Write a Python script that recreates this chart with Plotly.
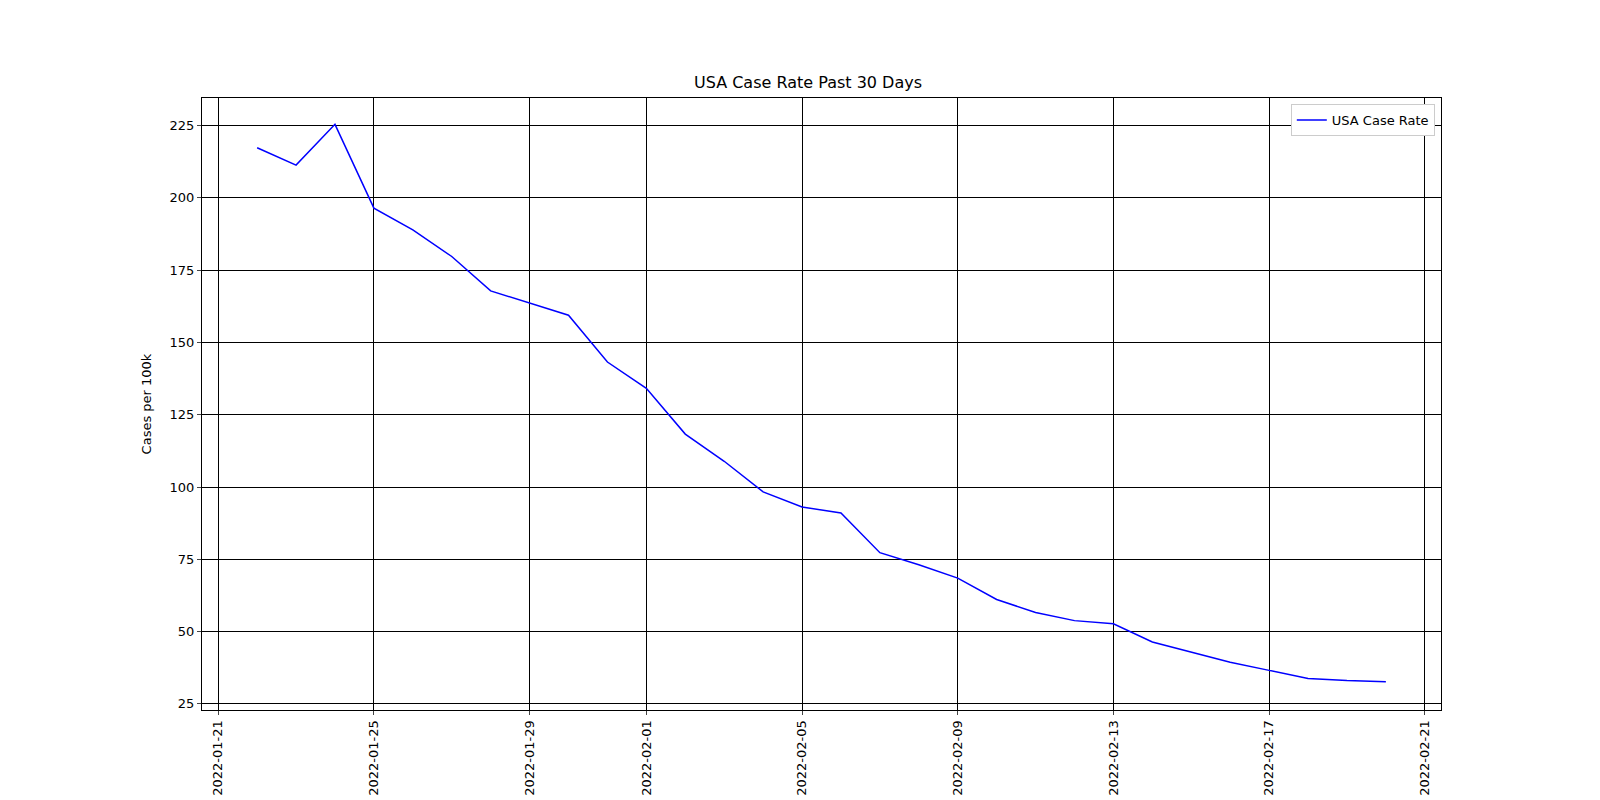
import plotly.graph_objects as go
import pandas as pd

dates = pd.date_range("2022-01-22", "2022-02-20", freq="D").strftime("%Y-%m-%d").tolist()
rates = [217.3, 211.3, 225.4, 196.4, 188.9, 179.7, 167.8, 163.6, 159.4, 143.2,
         134.1, 118.3, 108.9, 98.3, 93.1, 91.0, 77.3, 73.1, 68.5, 61.1,
         56.6, 53.8, 52.7, 46.4, 42.9, 39.4, 36.6, 33.8, 33.1, 32.7]
tick_dates = ["2022-01-21", "2022-01-25", "2022-01-29", "2022-02-01", "2022-02-05",
              "2022-02-09", "2022-02-13", "2022-02-17", "2022-02-21"]
y_ticks = [25, 50, 75, 100, 125, 150, 175, 200, 225]

fig = go.Figure(go.Scatter(x=dates, y=rates, mode="lines", name="USA Case Rate",
                           line=dict(color="blue", width=1.5)))
fig.update_layout(
    width=1600, height=800, plot_bgcolor="white", paper_bgcolor="white",
    margin=dict(l=194, r=167, t=90, b=91),
    font=dict(family="DejaVu Sans", size=13, color="black"),
    title=dict(text="USA Case Rate Past 30 Days", x=0.5, xanchor="center", y=0.9, yanchor="bottom",
               font=dict(size=16)),
    showlegend=True,
    legend=dict(x=0.995, y=0.99, xanchor="right", yanchor="top", bordercolor="#cccccc",
                borderwidth=1, bgcolor="white"),
)
fig.update_xaxes(type="date", range=["2022-01-20 14:00", "2022-02-21 10:00"],
                 tickvals=tick_dates, ticktext=tick_dates, tickangle=-90,
                 showgrid=True, gridcolor="black", gridwidth=1,
                 showline=True, linecolor="black", mirror=True, ticks="outside", ticklen=4)
fig.update_yaxes(range=[22.9, 234.5], tickvals=y_ticks, title_text="Cases per 100k",
                 title_font=dict(size=13),
                 showgrid=True, gridcolor="black", gridwidth=1, zeroline=False,
                 showline=True, linecolor="black", mirror=True, ticks="outside", ticklen=4)
fig.write_html("out.html")
